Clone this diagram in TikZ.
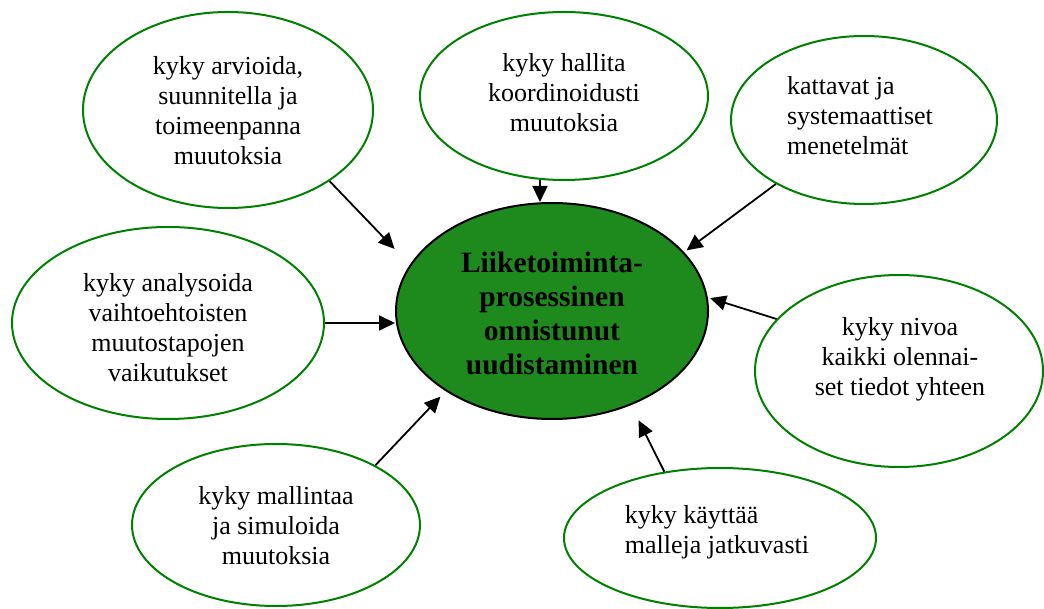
\documentclass[tikz,border=0pt]{standalone}
\usepackage{fontspec}
\setmainfont{Liberation Serif}
\usetikzlibrary{shapes.geometric,arrows.meta}
\definecolor{ringgreen}{RGB}{0,128,0}
\definecolor{hubgreen}{RGB}{30,138,30}
\begin{document}
\begin{tikzpicture}[x=1pt,y=-1pt,
  bubble/.style={ellipse,draw=ringgreen,line width=2pt,inner sep=0pt},
  captext/.style={font=\fontsize{26}{30}\selectfont,align=center,inner sep=0pt},
  hubtext/.style={font=\bfseries\fontsize{29.5}{34}\selectfont,align=center,inner sep=0pt},
  link/.style={line width=1.8pt,-{Triangle[length=16pt,width=15pt]}}
]
\useasboundingbox (0,0) rectangle (1044,609);

% central goal
\node[ellipse,draw=black,fill=hubgreen,line width=2pt,inner sep=0pt,
      minimum width=312pt,minimum height=216pt] (hub) at (552,311) {};
\node[hubtext] (ht) at (552,313) {Liiketoiminta-\\prosessinen\\onnistunut\\uudistaminen};

% surrounding capabilities
\node[bubble,minimum width=290pt,minimum height=196pt] (e1) at (228,110) {};
\node[bubble,minimum width=288pt,minimum height=168pt] (e2) at (564,96) {};
\node[bubble,minimum width=266pt,minimum height=168pt] (e3) at (864,120) {};
\node[bubble,minimum width=312pt,minimum height=192pt] (e4) at (168,323) {};
\node[bubble,minimum width=288pt,minimum height=192pt] (e5) at (899,371) {};
\node[bubble,minimum width=288pt,minimum height=162pt] (e6) at (276,525) {};
\node[bubble,minimum width=312pt,minimum height=140pt] (e7) at (720,538) {};

\node[captext] (t1) at (228,111) {kyky arvioida,\\suunnitella ja\\toimeenpanna\\muutoksia};
\node[captext] (t2) at (564,93) {kyky hallita\\koordinoidusti\\muutoksia};
\node[captext,align=left] (t3) at (860,116) {kattavat ja\\systemaattiset\\menetelmät};
\node[captext] (t4) at (168,328) {kyky analysoida\\vaihtoehtoisten\\muutostapojen\\vaikutukset};
\node[captext] (t5) at (900,359) {kyky nivoa\\kaikki olennai-\\set tiedot yhteen};
\node[captext] (t6) at (276,526) {kyky mallintaa\\ja simuloida\\muutoksia};
\node[captext,align=left] (t7) at (717,532) {kyky käyttää\\malleja jatkuvasti};

% influences towards the goal
\draw[link,shorten >=22pt] (e1.-35) -- (hub.162.4);
\draw[link] (e2.-106) -- (e2.-106 |- hub.north);
\draw[link,shorten >=3pt] (e3.-144) -- (hub.24.3);
\draw[link] (e4.east) -- (e4.east -| hub.west);
\draw[link,shorten >=2.4pt] (e5.157.6) -- (hub.5.1);
\draw[link,shorten >=7.5pt] (e6.31) -- (hub.217.9);
\draw[link,shorten >=17pt] (e7.130) -- (hub.-50.5);
\end{tikzpicture}
\end{document}
